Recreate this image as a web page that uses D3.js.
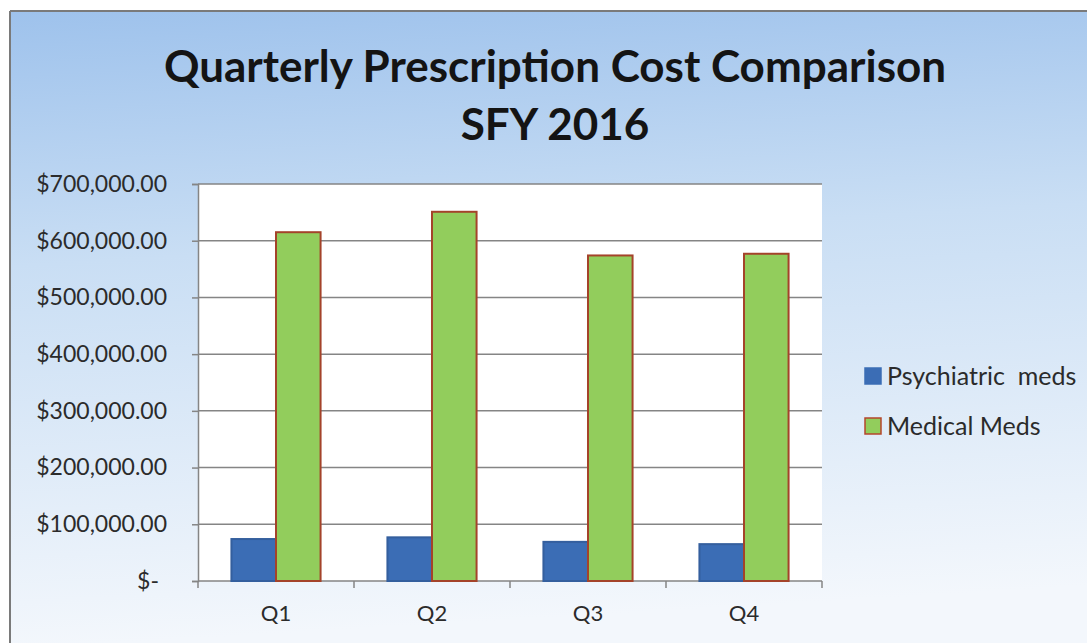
<!DOCTYPE html>
<html><head><meta charset="utf-8">
<script src="https://cdn.jsdelivr.net/npm/d3@7"></script>
<style>html,body{margin:0;padding:0;background:#fff;}svg{display:block;}</style>
</head><body>
<svg id="chart" width="1087" height="643"></svg>
<script>
const categories = ["Q1", "Q2", "Q3", "Q4"];
const seriesNames = ["Psychiatric  meds", "Medical Meds"];
const psychiatric = [74000, 77000, 69000, 65000];
const medical = [615000, 651000, 574000, 577000];
const yTicks = [0, 100000, 200000, 300000, 400000, 500000, 600000, 700000];
const titleLines = ["Quarterly Prescription Cost Comparison", "SFY 2016"];

const svg = d3.select("#chart");
const W = 1087, H = 643;
const font = "Lato, 'Open Sans', sans-serif";

const defs = svg.append("defs");
const grad = defs.append("linearGradient").attr("id", "bg").attr("x1", 0).attr("y1", 0).attr("x2", 0.1).attr("y2", 1);
grad.append("stop").attr("offset", "0").attr("stop-color", "#9ec2ec");
grad.append("stop").attr("offset", "0.4").attr("stop-color", "#c9def4");
grad.append("stop").attr("offset", "1").attr("stop-color", "#f3f7fc");

svg.append("rect").attr("x", 10).attr("y", 11).attr("width", W - 10).attr("height", H - 11)
  .attr("fill", "url(#bg)");
svg.append("line").attr("x1", 10).attr("x2", 10).attr("y1", 11).attr("y2", H).attr("stroke", "#7a7a7a").attr("stroke-width", 2);
svg.append("line").attr("x1", 10).attr("x2", W).attr("y1", 11).attr("y2", 11).attr("stroke", "#7a7a7a").attr("stroke-width", 2);

const m = {left: 198, right: 822, top: 184, bottom: 581};
const x0 = d3.scaleBand().domain(categories).range([m.left, m.right]).paddingInner(0).paddingOuter(0);
const x1 = d3.scaleBand().domain(seriesNames).range([0, x0.bandwidth()]).paddingInner(0).paddingOuter(0.75);
const y = d3.scaleLinear().domain([0, 700000]).range([m.bottom, m.top]);

svg.append("rect").attr("x", m.left).attr("y", m.top).attr("width", m.right - m.left).attr("height", m.bottom - m.top).attr("fill", "#fff");

// gridlines
svg.append("g").selectAll("line").data(yTicks).join("line")
  .attr("x1", m.left).attr("x2", m.right).attr("y1", d => y(d)).attr("y2", d => y(d))
  .attr("stroke", "#858585").attr("stroke-width", 1.5);

const fmt = d => d === 0 ? "$-" : "$" + d3.format(",.2f")(d);
const yAxis = svg.append("g").attr("transform", `translate(${m.left},0)`)
  .call(d3.axisLeft(y).tickValues(yTicks).tickFormat(fmt).tickSize(6).tickPadding(25));
yAxis.select(".domain").attr("stroke", "#858585").attr("stroke-width", 1.5);
yAxis.selectAll(".tick line").attr("stroke", "#858585").attr("stroke-width", 1.5);
yAxis.selectAll("text").attr("font-family", font).attr("font-size", 23).attr("fill", "#2b2b2b");
yAxis.selectAll(".tick").filter(d => d === 0).select("text").attr("dx", -8);

const data = categories.map((c, i) => ({cat: c, vals: [psychiatric[i], medical[i]]}));
const groups = svg.append("g").selectAll("g").data(data).join("g")
  .attr("transform", d => `translate(${x0(d.cat)},0)`);
groups.selectAll("rect").data(d => d.vals.map((v, j) => ({name: seriesNames[j], v}))).join("rect")
  .attr("x", d => x1(d.name)).attr("width", x1.bandwidth())
  .attr("y", d => y(d.v)).attr("height", d => y(0) - y(d.v))
  .attr("fill", d => d.name === seriesNames[0] ? "#3b6db5" : "#92cd5c")
  .attr("stroke", d => d.name === seriesNames[0] ? "#345f9e" : "#a4432a")
  .attr("stroke-width", 2);

const xAxis = svg.append("g").attr("transform", `translate(0,${m.bottom})`)
  .call(d3.axisBottom(x0).tickSize(0).tickPadding(24));
xAxis.select(".domain").remove();
xAxis.selectAll("text").attr("font-family", font).attr("font-size", 22).attr("fill", "#2b2b2b");
// category boundary ticks
const bounds = categories.map(c => x0(c)).concat([m.right]);
svg.append("g").selectAll("line").data(bounds).join("line")
  .attr("x1", d => d).attr("x2", d => d).attr("y1", m.bottom).attr("y2", m.bottom + 7)
  .attr("stroke", "#858585").attr("stroke-width", 1.5);

// title
svg.append("g").selectAll("text").data(titleLines).join("text")
  .attr("x", 555).attr("y", (d, i) => 82 + i * 58)
  .attr("text-anchor", "middle").attr("font-family", font).attr("font-weight", "bold")
  .attr("font-size", 44).attr("fill", "#141414").text(d => d);

// legend
const colors = [{fill: "#3b6db5", stroke: "#3b6db5"}, {fill: "#92cd5c", stroke: "#b5452c"}];
const lg = svg.append("g").selectAll("g").data(seriesNames).join("g")
  .attr("transform", (d, i) => `translate(865,${368 + i * 50})`);
lg.append("rect").attr("width", 16).attr("height", 16)
  .attr("fill", (d, i) => colors[i].fill).attr("stroke", (d, i) => colors[i].stroke).attr("stroke-width", 1.5);
lg.append("text").attr("x", 22).attr("y", 17).attr("font-family", font).attr("font-size", 25)
  .attr("fill", "#2b2b2b").attr("xml:space", "preserve").style("white-space", "pre").text(d => d);
</script>
</body></html>
